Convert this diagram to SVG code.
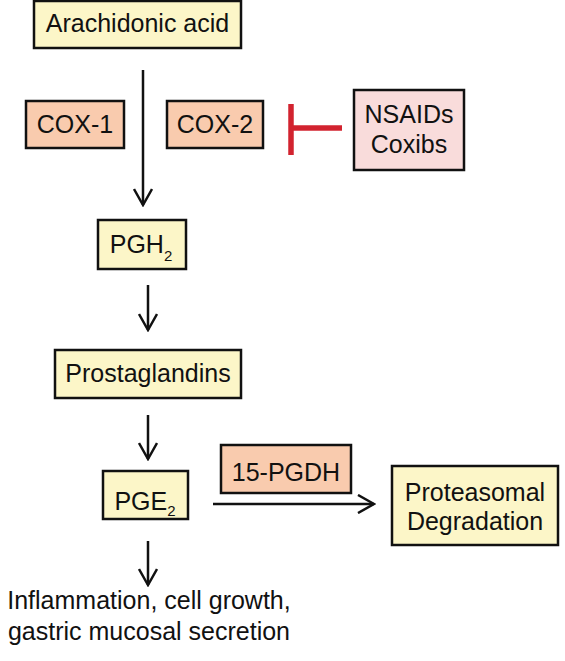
<svg xmlns="http://www.w3.org/2000/svg" width="565" height="661" viewBox="0 0 565 661">
<style>
text{font-family:"Liberation Sans",Arial,sans-serif;font-size:25px;fill:#111;text-anchor:middle}
.sub{font-size:15px}
.box{stroke:#111;stroke-width:2.5}
.y{fill:#fcf6c8}
.o{fill:#f9cbae}
.p{fill:#f9dcdb}
.ln{stroke:#111;stroke-width:2.5;fill:none}
</style>
<defs>
<marker id="ah" viewBox="0 0 20 20" refX="18" refY="10" markerWidth="20" markerHeight="20" markerUnits="userSpaceOnUse" orient="auto">
<path d="M2,1 L18,10 L2,19" fill="none" stroke="#111" stroke-width="2.5"/>
</marker>
</defs>
<rect width="565" height="661" fill="#fff"/>
<g id="connectors">
<line class="ln" x1="143" y1="70" x2="143" y2="205" marker-end="url(#ah)"/>
<line class="ln" x1="148" y1="285" x2="148" y2="330" marker-end="url(#ah)"/>
<line class="ln" x1="148" y1="415" x2="148" y2="459" marker-end="url(#ah)"/>
<line class="ln" x1="148" y1="541" x2="148" y2="585" marker-end="url(#ah)"/>
<line class="ln" x1="213" y1="504" x2="374" y2="504" marker-end="url(#ah)"/>
<g id="inhibit" stroke="#d2232f" stroke-width="5.5" fill="none">
<line x1="291" y1="104" x2="291" y2="155"/>
<line x1="291" y1="128" x2="342" y2="128"/>
</g>
</g>
<g id="arachidonic">
<rect class="box y" x="34" y="1" width="207" height="47"/>
<text x="137.5" y="32">Arachidonic acid</text>
</g>
<g id="cox1">
<rect class="box o" x="26" y="101" width="98" height="47"/>
<text x="75" y="133">COX-1</text>
</g>
<g id="cox2">
<rect class="box o" x="167" y="101" width="96" height="47"/>
<text x="215" y="133">COX-2</text>
</g>
<g id="nsaids">
<rect class="box p" x="354" y="90" width="110" height="80"/>
<text x="409" y="123">NSAIDs</text>
<text x="409" y="153">Coxibs</text>
</g>
<g id="pgh2">
<rect class="box y" x="98" y="220" width="88" height="49"/>
<text x="141" y="253">PGH<tspan class="sub" dy="8">2</tspan></text>
</g>
<g id="prostaglandins">
<rect class="box y" x="55" y="350" width="186" height="48"/>
<text x="148" y="382">Prostaglandins</text>
</g>
<g id="pge2">
<rect class="box y" x="103" y="471" width="85" height="48"/>
<text x="145" y="510">PGE<tspan class="sub" dy="6">2</tspan></text>
</g>
<g id="pgdh">
<rect class="box o" x="221" y="445" width="130" height="48"/>
<text x="286" y="481">15-PGDH</text>
</g>
<g id="proteasomal">
<rect class="box y" x="392" y="466" width="166" height="79"/>
<text x="475" y="501">Proteasomal</text>
<text x="475" y="530">Degradation</text>
</g>
<g id="outcome">
<text x="149" y="609">Inflammation, cell growth,</text>
<text x="149" y="640">gastric mucosal secretion</text>
</g>
</svg>
